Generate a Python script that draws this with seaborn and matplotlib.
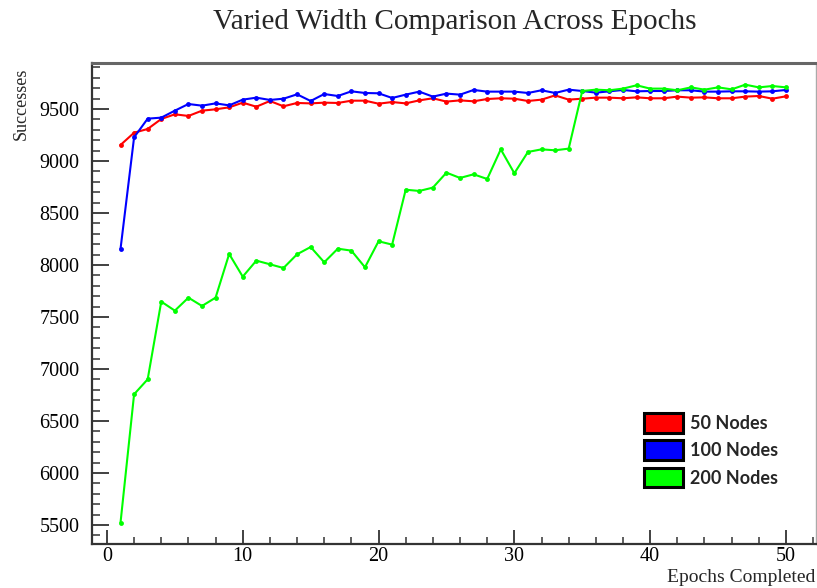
import pandas as pd
import matplotlib.pyplot as plt
import seaborn as sns
from matplotlib.patches import Patch
from matplotlib.ticker import MultipleLocator

# Données
epochs = list(range(1, 51))

nodes_50 = [9154, 9272, 9308, 9404, 9449, 9433, 9484, 9497, 9516, 9561,
            9522, 9577, 9526, 9558, 9554, 9561, 9558, 9580, 9580, 9551,
            9567, 9554, 9583, 9603, 9571, 9583, 9574, 9596, 9603, 9599,
            9577, 9590, 9631, 9590, 9599, 9609, 9609, 9603, 9612, 9603,
            9603, 9619, 9609, 9612, 9603, 9603, 9619, 9625, 9599, 9622]

nodes_100 = [8154, 9228, 9407, 9417, 9484, 9548, 9532, 9554, 9535, 9590,
             9609, 9587, 9599, 9641, 9577, 9644, 9625, 9670, 9654, 9651,
             9606, 9638, 9667, 9619, 9648, 9638, 9683, 9667, 9667, 9667,
             9654, 9680, 9654, 9686, 9673, 9657, 9670, 9683, 9670, 9673,
             9673, 9680, 9680, 9667, 9667, 9670, 9670, 9667, 9670, 9683]

nodes_200 = [5522, 6757, 6901, 7648, 7561, 7686, 7606, 7686, 8106, 7888,
             8042, 8007, 7971, 8103, 8173, 8026, 8157, 8138, 7978, 8228,
             8196, 8724, 8712, 8744, 8888, 8837, 8872, 8827, 9112, 8882,
             9087, 9112, 9103, 9119, 9673, 9686, 9680, 9696, 9728, 9696,
             9696, 9680, 9708, 9686, 9708, 9689, 9734, 9708, 9721, 9708]

series_names = ["50 Nodes", "100 Nodes", "200 Nodes"]
colors = ["#ff0000", "#0000ff", "#00ff00"]

df = pd.concat([
    pd.DataFrame({"epoch": epochs, "successes": vals, "series": name})
    for name, vals in zip(series_names, [nodes_50, nodes_100, nodes_200])
])

sns.set_style("ticks")
plt.rcParams["font.family"] = ["Liberation Serif", "DejaVu Serif"]

fig = plt.figure(figsize=(8.17, 5.88), dpi=100)
ax = fig.add_axes([0.1126, 0.0748, 0.886, 0.818])

sns.lineplot(data=df, x="epoch", y="successes", hue="series",
             palette=dict(zip(series_names, colors)), marker="o",
             markersize=3.5, markeredgewidth=0, linewidth=1.5, ax=ax,
             legend=False)

ax.set_xlim(-1.1, 52.2)
ax.set_ylim(5317, 9942)
ax.xaxis.set_major_locator(MultipleLocator(10))
ax.xaxis.set_minor_locator(MultipleLocator(2))
ax.yaxis.set_major_locator(MultipleLocator(500))
ax.yaxis.set_minor_locator(MultipleLocator(100))
ax.tick_params(which="major", direction="in", length=12, width=1.3,
               labelsize=14.5, color="#333333", labelcolor="black")
ax.tick_params(which="minor", direction="in", length=6, width=1.1,
               color="#333333")
ax.tick_params(axis="y", which="major", pad=9)
ax.tick_params(axis="x", which="major", length=10, pad=2)
ax.tick_params(axis="x", which="minor", length=5)

for side in ["left", "bottom"]:
    ax.spines[side].set_linewidth(1.6)
    ax.spines[side].set_color("#333333")
ax.spines["top"].set_linewidth(2.2)
ax.spines["top"].set_color("#666666")
ax.spines["right"].set_linewidth(1)
ax.spines["right"].set_color("#aaaaaa")

ax.set_xlabel("")
ax.set_ylabel("")
fig.text(0.557, 0.962, "Varied Width Comparison Across Epochs", fontsize=21,
         ha="center", va="center")
fig.text(0.998, 0.003, "Epochs Completed", fontsize=14, ha="right", va="bottom")
fig.text(0.015, 0.885, "Successes", fontsize=13, rotation=90, ha="left", va="top")

handles = [Patch(facecolor=c, edgecolor="black", linewidth=2.2, label=n)
           for c, n in zip(colors, series_names)]
leg = ax.legend(handles=handles, loc="upper left", bbox_to_anchor=(0.762, 0.272),
                frameon=False, handlelength=2.2, handleheight=1.3,
                handletextpad=0.35, labelspacing=0.42, borderaxespad=0,
                borderpad=0,
                prop={"family": ["Lato", "DejaVu Sans"], "weight": "bold", "size": 13})

plt.savefig("out.png", dpi=100)
